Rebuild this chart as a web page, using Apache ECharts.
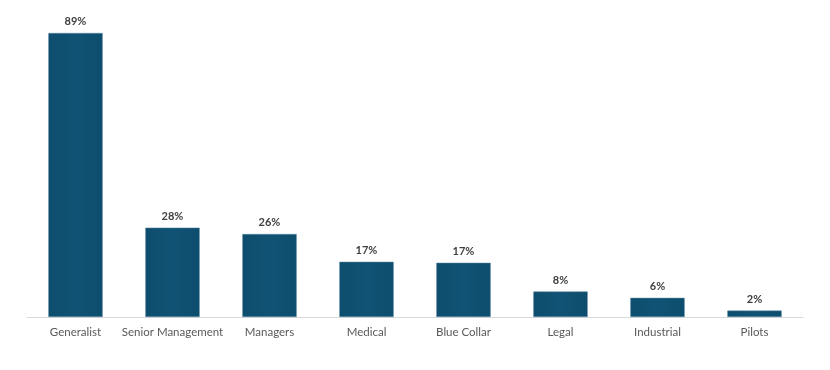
<!DOCTYPE html>
<html><head><meta charset="utf-8">
<script src="https://cdn.jsdelivr.net/npm/echarts@6/dist/echarts.min.js"></script>
<style>html,body{margin:0;padding:0;background:#fff}#c{width:830px;height:370px}</style>
</head><body><div id="c"></div>
<script>
const categories = ['Generalist','Senior Management','Managers','Medical','Blue Collar','Legal','Industrial','Pilots'];
const values = [89, 28, 26, 17.3, 17, 8, 6, 2];
const labels = ['89%','28%','26%','17%','17%','8%','6%','2%'];
const chart = echarts.init(document.getElementById('c'));
chart.setOption({
  animation: false,
  grid: {left: 27, right: 27, top: 33, bottom: 53, containLabel: false},
  xAxis: {
    type: 'category', data: categories,
    axisLine: {lineStyle: {color: '#d9d9d9', width: 1}},
    axisTick: {show: false},
    axisLabel: {color: '#595959', fontSize: 11.5, fontFamily: 'Lato', margin: 9, interval: 0}
  },
  yAxis: {type: 'value', min: 0, max: 89, show: false, splitLine: {show: false}},
  series: [{
    type: 'bar', data: values, barCategoryGap: '44%',
    itemStyle: {
      color: {type: 'linear', x: 0, y: 0, x2: 1, y2: 0, colorStops: [
        {offset: 0, color: '#0d4d6e'}, {offset: 0.5, color: '#115374'}, {offset: 1, color: '#0d4d6e'}]},
      borderColor: '#5a86a0', borderWidth: 0.5
    },
    label: {show: true, position: 'top', distance: 6, color: '#404040', fontSize: 11, fontWeight: 'bold',
      fontFamily: 'Lato', formatter: p => labels[p.dataIndex]}
  }]
});
</script></body></html>
